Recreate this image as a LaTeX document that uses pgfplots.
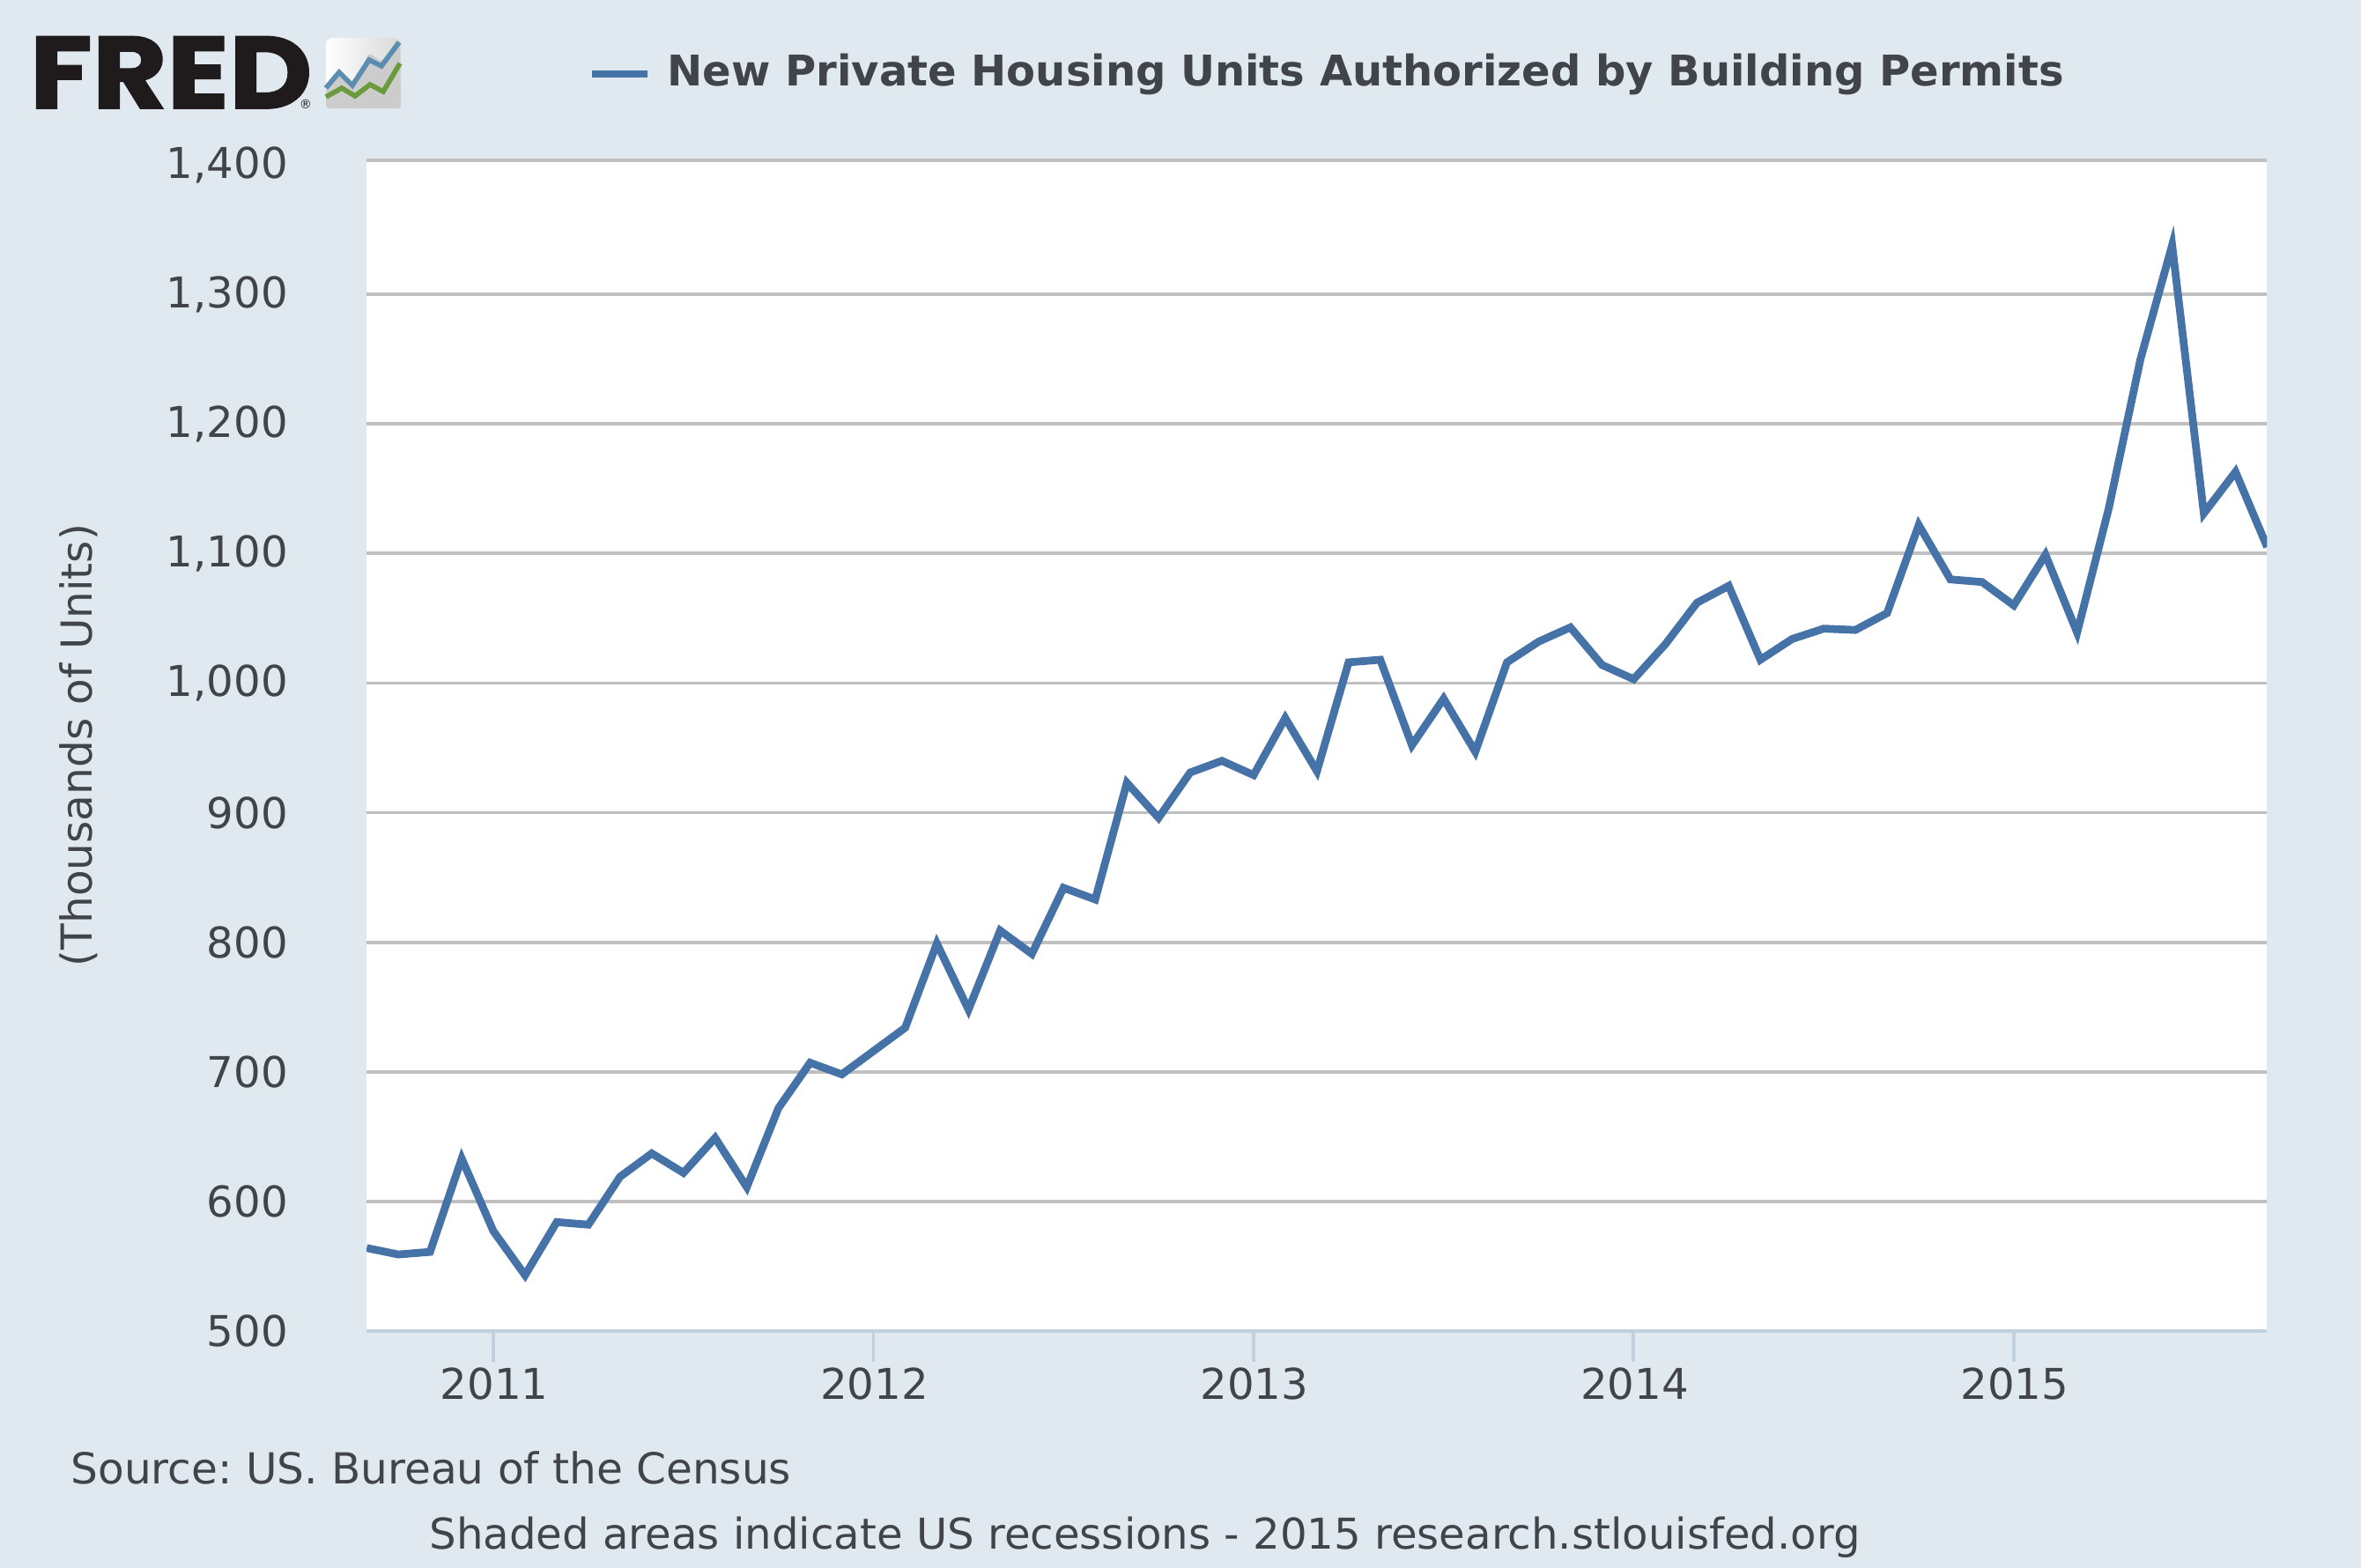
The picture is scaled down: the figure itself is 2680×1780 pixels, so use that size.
\documentclass[border=0pt]{standalone}
\usepackage{fontspec}
\setmainfont{DejaVu Sans}
\newfontfamily\fredfont{Poppins}[FakeBold=1.5]
\usepackage{pgfplots}
\pgfplotsset{compat=1.18}
\usepackage{pgfplotstable}
\definecolor{bgblue}{HTML}{E1E9F0}
\definecolor{lineblue}{HTML}{4572A7}
\definecolor{gridgray}{HTML}{C0C0C0}
\definecolor{axisblue}{HTML}{C0D0E0}
\definecolor{txt}{HTML}{414549}
\definecolor{logoblack}{HTML}{1F1A1B}
\definecolor{iconblue}{HTML}{5B8DB0}
\definecolor{icongreen}{HTML}{6A9A3C}
\frenchspacing

% monthly, Sep 2010 (0) to Sep 2015 (60)
\pgfplotstableread{
m v
0 564
1 559
2 561
3 633
4 577
5 543
6 584
7 582
8 619
9 637
10 622
11 649
12 611
13 672
14 707
15 698
16 716
17 734
18 799
19 748
20 809
21 791
22 842
23 833
24 923
25 896
26 931
27 940
28 929
29 973
30 932
31 1016
32 1018
33 952
34 988
35 947
36 1016
37 1032
38 1043
39 1014
40 1003
41 1030
42 1062
43 1075
44 1018
45 1034
46 1042
47 1041
48 1054
49 1122
50 1080
51 1078
52 1060
53 1099
54 1039
55 1135
56 1250
57 1338
58 1131
59 1163
60 1105
}\permits

\begin{document}
\begin{tikzpicture}
% page background, 1 px = 0.01cm, origin top left
\begin{scope}[x=0.01cm,y=-0.01cm]
\fill[bgblue] (0,0) rectangle (2680,1780);

% logo
\node[inner sep=0pt,anchor=base west,text=logoblack,xscale=1.12] at (33,123) {\fontsize{33pt}{33pt}\fredfont\bfseries FRED};
\node[inner sep=0pt,text=logoblack] at (347,118) {\fontsize{4pt}{4pt}\selectfont ®};
\shade[left color=white,right color=black!15,rounded corners=2pt] (370,43) rectangle (455,123);
\fill[black!20,rounded corners=1pt] (370,123) -- (370,100) -- (385,83) -- (400,98) -- (419,60) -- (433,70) -- (454,46) -- (455,123) -- cycle;
\draw[iconblue,line width=1.6pt] (370,100) -- (385,82) -- (400,97) -- (419,68) -- (433,75) -- (453,48);
\draw[icongreen,line width=1.6pt] (370,110) -- (388,100) -- (403,109) -- (420,96) -- (435,104) -- (454,72);

% legend
\draw[lineblue,line width=2.5pt] (672,84) -- (735,84);
\node[anchor=west,inner sep=0pt,text=txt] at (757,84) {\fontsize{13.65pt}{14pt}\selectfont\bfseries New Private Housing Units Authorized by Building Permits};

% notes
\node[rotate=90,inner sep=0pt,text=txt] at (89,846) {\fontsize{13.8pt}{14pt}\selectfont (Thousands of Units)};
\node[anchor=west,inner sep=0pt,text=txt] at (80,1666) {\fontsize{13.8pt}{14pt}\selectfont Source: US. Bureau of the Census};
\node[anchor=west,inner sep=0pt,text=txt] at (487,1745) {\fontsize{13.7pt}{14pt}\selectfont Shaded areas indicate US recessions - 2015 research.stlouisfed.org};
\end{scope}

% top of the plot sits slightly above the true 1400 level, as in the original
\begin{axis}[
    at={(4.16cm,-15.10cm)},
    anchor=south west,
    scale only axis,
    width=21.56cm,
    height=13.28cm,
    xmin=0, xmax=60,
    ymin=500, ymax=1403.4,
    axis background/.style={fill=white},
    axis x line*=bottom,
    axis y line*=left,
    axis line style={-},
    x axis line style={draw=axisblue,line width=1.1pt},
    y axis line style={draw=none},
    ytick={500,600,700,800,900,1000,1100,1200,1300},
    extra y ticks={1403.4},
    extra y tick labels={1{,}400},
    extra y tick style={grid=major,yticklabel style={yshift=-0.05cm}},
    xtick={4,16,28,40,52},
    xticklabels={2011,2012,2013,2014,2015},
    tick align=outside,
    major tick length=0.35cm,
    x tick style={draw=axisblue,line width=1.1pt},
    y tick style={draw=none},
    ymajorgrids=true,
    grid style={gridgray,line width=1.1pt},
    tick label style={font=\fontsize{13.7pt}{14pt}\selectfont,text=txt},
    /pgf/number format/assume math mode=true,
    /pgf/number format/1000 sep={,},
    yticklabel style={anchor=east,xshift=-0.42cm},
    xticklabel style={anchor=center,yshift=-0.25cm,xshift=0.01cm},
]
\addplot[lineblue,line width=2.5pt,line join=miter,no markers] table[x=m,y=v] {\permits};
\end{axis}
\end{tikzpicture}
\end{document}
